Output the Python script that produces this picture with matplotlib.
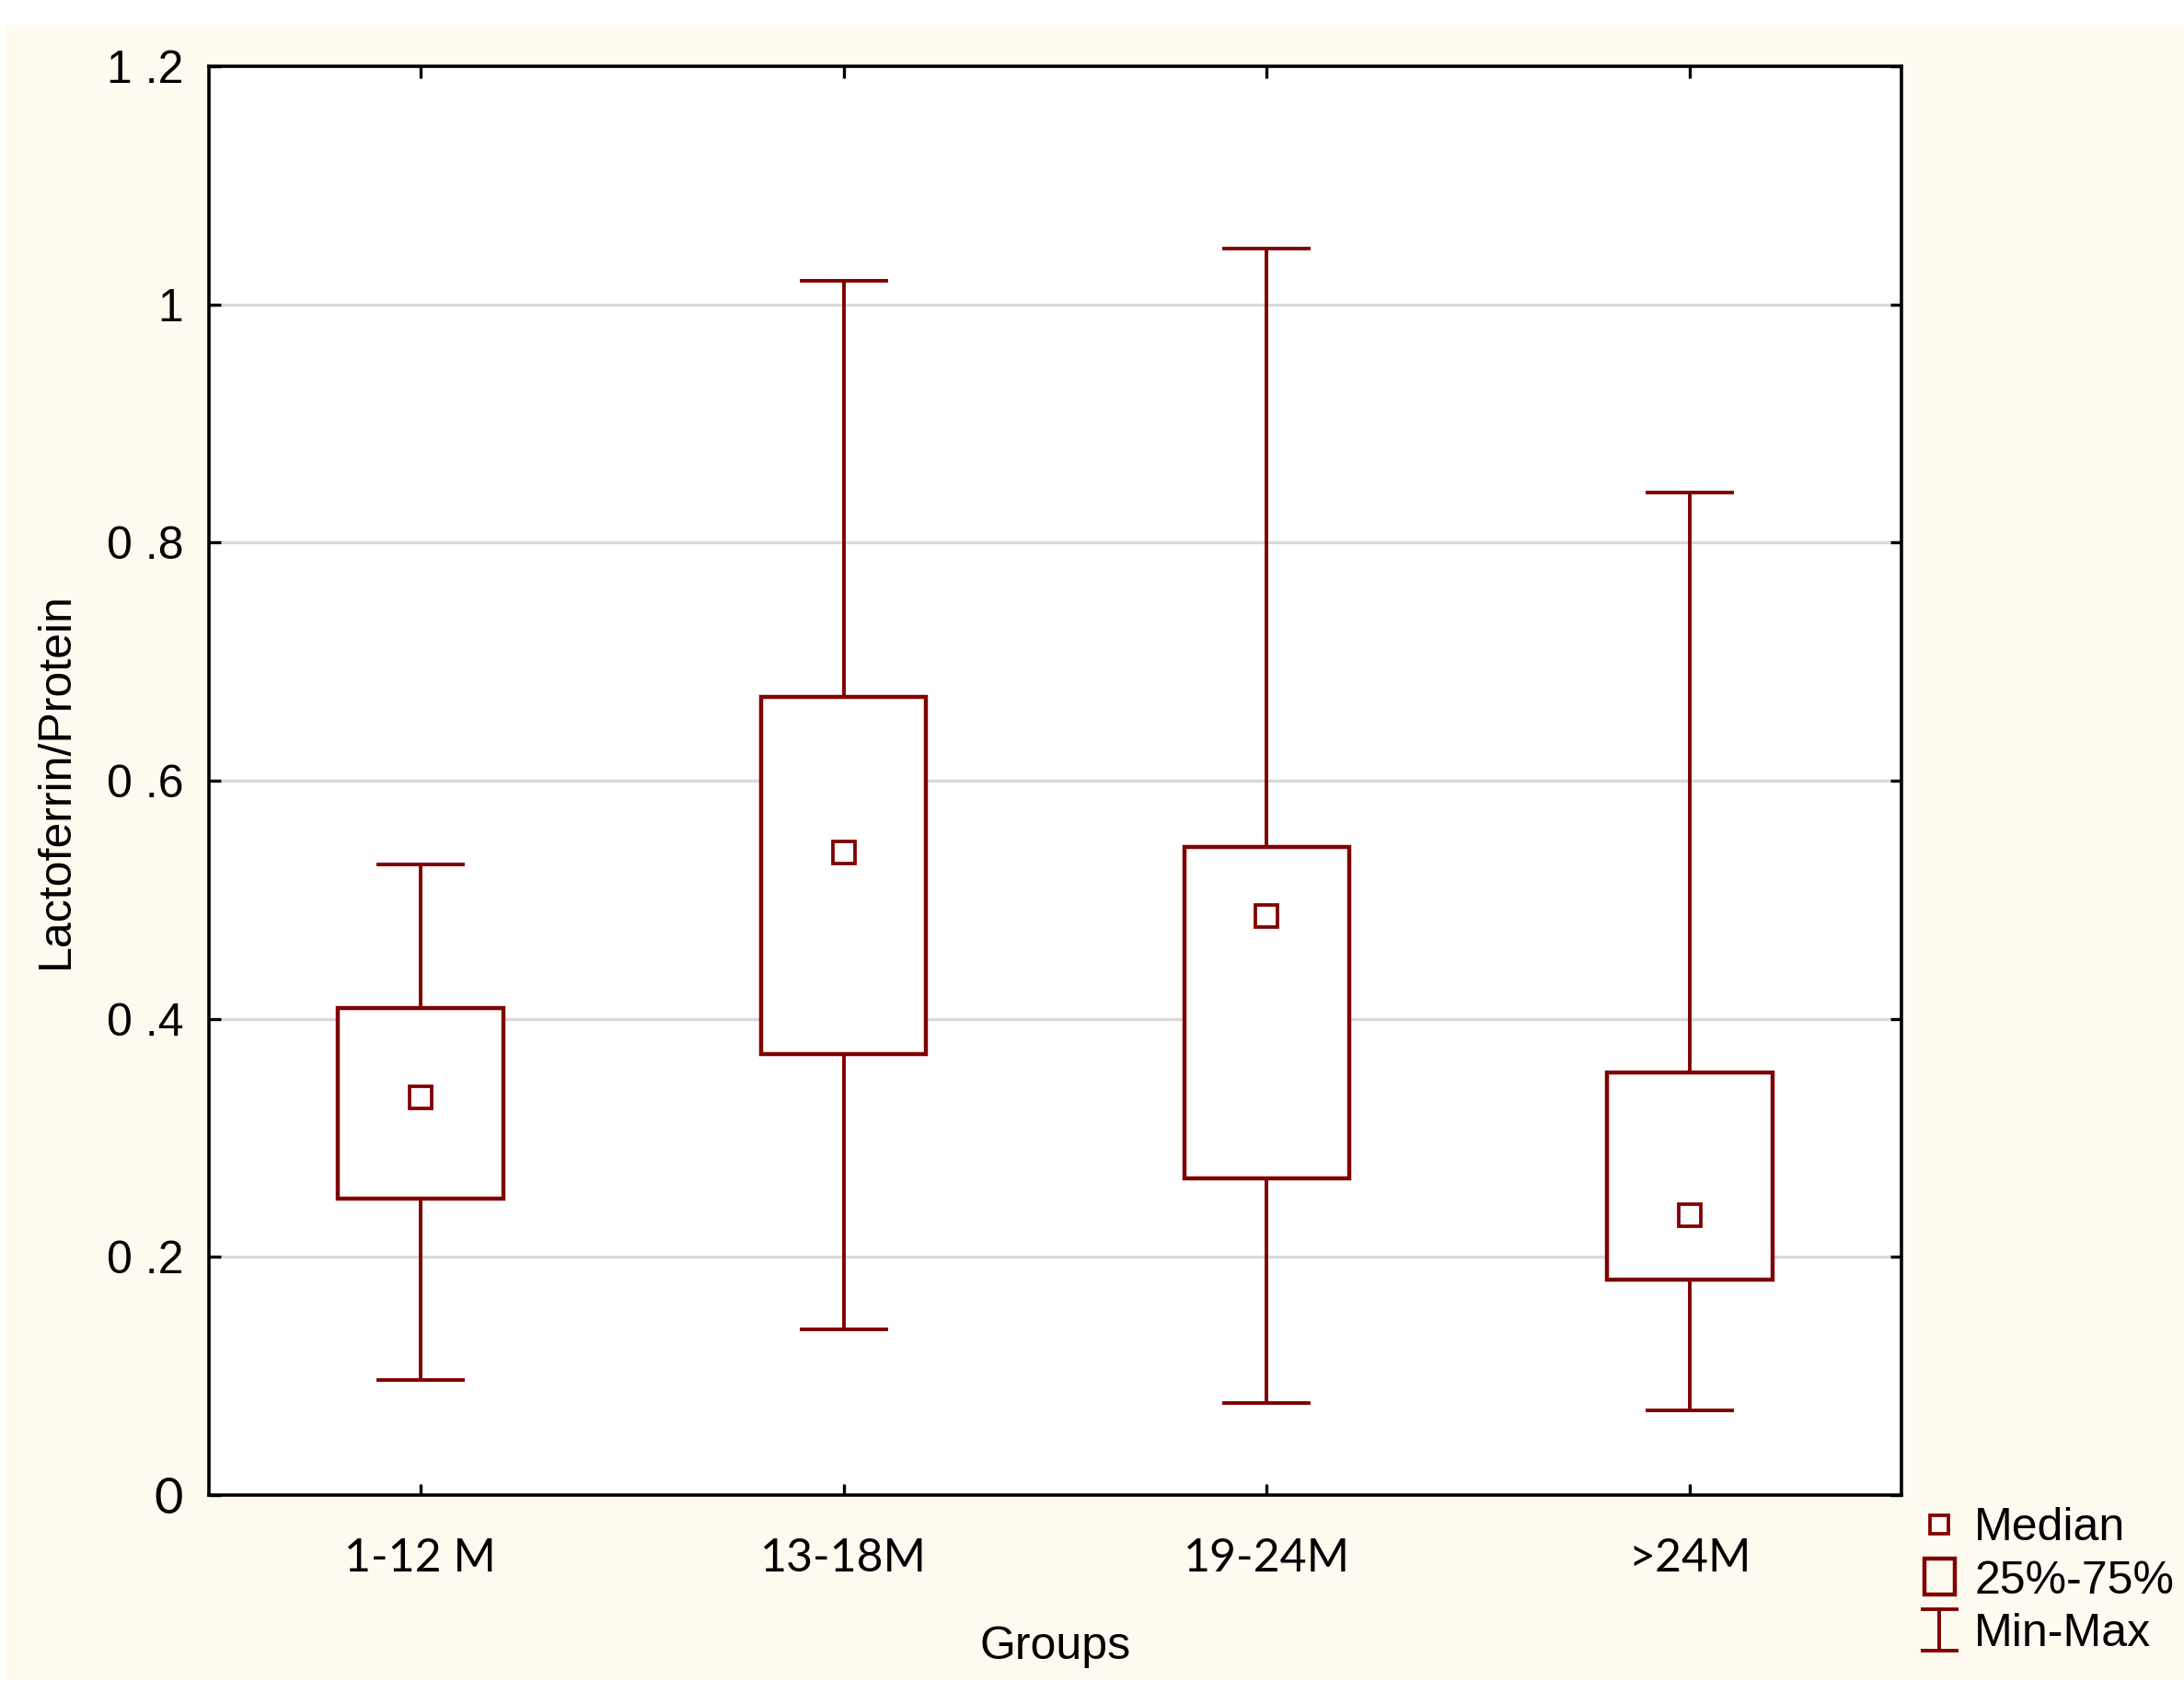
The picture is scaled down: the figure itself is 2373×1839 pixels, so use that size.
import matplotlib
matplotlib.use("Agg")
import matplotlib.pyplot as plt
from matplotlib.patches import Rectangle
from matplotlib.lines import Line2D

# ---- data ----
groups = ["1-12 M", "13-18M", "19-24M", ">24M"]
mins = [0.097, 0.139, 0.077, 0.071]
q1 = [0.249, 0.370, 0.266, 0.181]
medians = [0.334, 0.540, 0.486, 0.235]
q3 = [0.409, 0.670, 0.544, 0.355]
maxs = [0.530, 1.020, 1.047, 0.842]
ytick_vals = [0, 0.2, 0.4, 0.6, 0.8, 1.0, 1.2]
ytick_labels = ["0", "0 .2", "0 .4", "0 .6", "0 .8", "1", "1 .2"]

RED = "#800000"
CREAM = "#FEFAF0"
ARIAL = "Liberation Sans"
CALIBRI = "Lato"
FS = 36

W, H = 2373, 1839
DPI = 100
fig = plt.figure(figsize=(W / DPI, H / DPI), dpi=DPI, facecolor="white")

def fx(px):
    return px / W

def fy(py):
    return 1 - py / H

# cream background panel
bg = Rectangle((fx(6), fy(1826)), fx(2373 - 6), (1826 - 27) / H,
               transform=fig.transFigure, facecolor=CREAM,
               edgecolor="none", zorder=-10)
fig.patches.append(bg)

ax = fig.add_axes([fx(227), fy(1624), fx(2066 - 227), (1624 - 72) / H])
ax.set_zorder(1)
ax.set_facecolor("white")
ax.set_xlim(0.5, 4.5)
ax.set_ylim(0, 1.2)

# gridlines
for v in ytick_vals[1:-1]:
    ax.axhline(v, color="#D9D9D9", lw=2.4, zorder=1)

box_w = 0.39
cap_w = 0.2
LW = 2.8
for i, g in enumerate(groups):
    x = i + 1
    # whiskers
    ax.plot([x, x], [q3[i], maxs[i]], color=RED, lw=LW, zorder=3, solid_capstyle="butt")
    ax.plot([x, x], [mins[i], q1[i]], color=RED, lw=LW, zorder=3, solid_capstyle="butt")
    ax.plot([x - cap_w / 2, x + cap_w / 2], [maxs[i], maxs[i]], color=RED, lw=LW, zorder=3)
    ax.plot([x - cap_w / 2, x + cap_w / 2], [mins[i], mins[i]], color=RED, lw=LW, zorder=3)
    # box
    ax.add_patch(Rectangle((x - box_w / 2, q1[i]), box_w, q3[i] - q1[i],
                           facecolor="white", edgecolor=RED, lw=3.2, zorder=4,
                           joinstyle="miter"))
    # median
    ax.plot([x], [medians[i]], marker="s", ms=17, mfc="white", mec=RED, mew=2.7,
            zorder=5, linestyle="none")

for s in ax.spines.values():
    s.set_linewidth(2.6)
    s.set_color("black")
    s.set_zorder(6)

ax.set_xticks(range(1, len(groups) + 1))
ax.set_xticklabels(groups, fontfamily=CALIBRI, fontsize=FS)
ax.set_yticks(ytick_vals)
ax.set_yticklabels(ytick_labels, fontfamily=ARIAL, fontsize=FS)
ax.get_yticklabels()[0].set_fontfamily(CALIBRI)
ax.get_yticklabels()[0].set_fontsize(39)
ax.tick_params(axis="both", direction="in", length=9, width=2.4, color="black",
               top=True, right=True)
ax.tick_params(axis="x", pad=33)
ax.tick_params(axis="y", pad=20)

ax.set_xlabel("Groups", fontfamily=ARIAL, fontsize=FS, labelpad=36)
ax.set_ylabel("Lactoferrin/Protein", fontfamily=ARIAL, fontsize=FS, labelpad=23)

# ---- legend (manual) ----
lx = 2107
fig.add_artist(Line2D([fx(lx)], [fy(1656)], marker="s", ms=15, mfc="white", mec=RED,
                      mew=2.7, transform=fig.transFigure, linestyle="none"))
fig.add_artist(Rectangle((fx(2091), fy(1732)), fx(33), 39 / H, transform=fig.transFigure,
                         facecolor="none", edgecolor=RED, lw=3.2))
fig.add_artist(Line2D([fx(lx), fx(lx)], [fy(1748), fy(1793)], color=RED, lw=2.8,
                      transform=fig.transFigure))
fig.add_artist(Line2D([fx(2089), fx(2126)], [fy(1748), fy(1748)], color=RED, lw=2.8,
                      transform=fig.transFigure))
fig.add_artist(Line2D([fx(2089), fx(2126)], [fy(1793), fy(1793)], color=RED, lw=2.8,
                      transform=fig.transFigure))
for txt, base in [("Median", 1673), ("25%-75%", 1731), ("Min-Max", 1788)]:
    fig.text(fx(2145), fy(base), txt, fontfamily=ARIAL, fontsize=FS,
             ha="left", va="baseline", color="black")

fig.savefig("out.png", dpi=DPI, facecolor="white")
